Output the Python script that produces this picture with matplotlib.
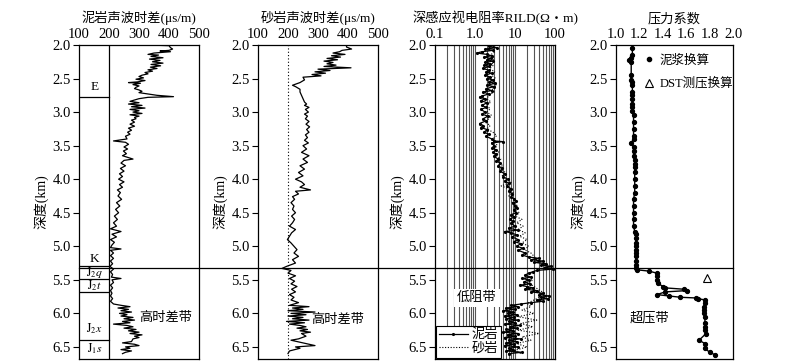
import matplotlib
matplotlib.use("Agg")
import matplotlib.pyplot as plt
from matplotlib.lines import Line2D
from matplotlib.transforms import blended_transform_factory
import numpy as np

plt.rcParams['font.family'] = ['Liberation Serif', 'Noto Sans CJK SC']
plt.rcParams['mathtext.fontset'] = 'stix'

# ---------------- data ----------------
mud_dt_depth = [2.00, 2.01, 2.04, 2.06, 2.08, 2.09, 2.10, 2.12, 2.14, 2.15, 2.17, 2.19, 2.21, 2.23, 2.25, 2.27,
                2.29, 2.31, 2.33, 2.35, 2.37, 2.39, 2.41, 2.43, 2.45, 2.47, 2.49, 2.51, 2.53, 2.55, 2.56, 2.57,
                2.59, 2.61, 2.63, 2.65, 2.67, 2.69, 2.71, 2.73, 2.75, 2.77, 2.78, 2.80, 2.82, 2.84, 2.86, 2.88,
                2.90, 2.92, 2.94, 2.96, 2.98, 3.00, 3.02, 3.04, 3.06, 3.08, 3.10, 3.12, 3.15, 3.18, 3.21, 3.24,
                3.27, 3.30, 3.33, 3.36, 3.40, 3.43, 3.45, 3.48, 3.52, 3.55, 3.58, 3.62, 3.65, 3.70, 3.72, 3.76,
                3.80, 3.84, 3.88, 3.92, 3.96, 4.00, 4.04, 4.08, 4.12, 4.16, 4.20, 4.25, 4.30, 4.35, 4.40, 4.45,
                4.50, 4.55, 4.60, 4.65, 4.70, 4.74, 4.78, 4.82, 4.86, 4.90, 4.94, 4.98, 5.02, 5.04, 5.06, 5.10,
                5.14, 5.18, 5.22, 5.26, 5.30, 5.34, 5.38, 5.42, 5.46, 5.48, 5.50, 5.54, 5.58, 5.62, 5.66, 5.70,
                5.74, 5.78, 5.82, 5.86, 5.88, 5.90, 5.92, 5.94, 5.96, 5.98, 6.00, 6.02, 6.04, 6.06, 6.08, 6.10,
                6.12, 6.14, 6.16, 6.18, 6.20, 6.22, 6.24, 6.26, 6.28, 6.30, 6.32, 6.34, 6.36, 6.38, 6.42, 6.44,
                6.46, 6.48, 6.50, 6.52, 6.54, 6.56, 6.58, 6.60]
mud_dt_value = [330, 400, 405, 412, 400, 370, 405, 350, 330, 365, 340, 380, 335, 370, 345, 380,
                340, 372, 338, 360, 330, 345, 320, 330, 310, 300, 315, 290, 320, 295, 265, 305,
                280, 300, 290, 285, 300, 310, 300, 330, 360, 415, 330, 300, 285, 270, 300, 265,
                310, 275, 320, 270, 300, 280, 310, 270, 300, 285, 290, 275, 285, 270, 285, 265,
                275, 262, 270, 255, 260, 215, 255, 265, 250, 262, 248, 258, 245, 280, 250, 240,
                255, 238, 250, 235, 245, 232, 250, 235, 245, 228, 238, 230, 242, 225, 236, 222,
                232, 218, 228, 215, 225, 205, 240, 210, 225, 205, 218, 210, 205, 240, 205, 215,
                205, 215, 205, 212, 203, 215, 205, 212, 208, 240, 210, 215, 205, 212, 205, 210,
                205, 212, 205, 215, 240, 270, 230, 265, 240, 275, 235, 260, 240, 280, 250, 285,
                245, 270, 215, 260, 280, 250, 290, 265, 300, 270, 310, 285, 300, 280, 275, 245,
                285, 300, 255, 270, 240, 275, 255, 245]

sand_dt_depth = [2.00, 2.00, 2.03, 2.06, 2.08, 2.10, 2.12, 2.14, 2.16, 2.18, 2.20, 2.22, 2.24, 2.26, 2.28, 2.30,
                 2.32, 2.34, 2.36, 2.38, 2.40, 2.42, 2.44, 2.46, 2.48, 2.52, 2.56, 2.60, 2.62, 2.66, 2.70, 2.75,
                 2.80, 2.85, 2.88, 2.90, 2.93, 2.96, 3.00, 3.03, 3.06, 3.10, 3.14, 3.18, 3.22, 3.26, 3.30, 3.34,
                 3.38, 3.42, 3.46, 3.50, 3.55, 3.60, 3.65, 3.70, 3.75, 3.80, 3.85, 3.90, 3.95, 4.00, 4.04, 4.08,
                 4.12, 4.16, 4.18, 4.22, 4.26, 4.30, 4.35, 4.40, 4.45, 4.50, 4.55, 4.60, 4.65, 4.70, 4.75, 4.80,
                 4.85, 4.90, 4.95, 5.00, 5.05, 5.10, 5.15, 5.20, 5.25, 5.30, 5.33, 5.36, 5.40, 5.44, 5.48, 5.52,
                 5.56, 5.60, 5.64, 5.68, 5.72, 5.76, 5.80, 5.84, 5.88, 5.90, 5.92, 5.94, 5.96, 5.98, 6.00, 6.02,
                 6.04, 6.06, 6.08, 6.10, 6.12, 6.14, 6.16, 6.18, 6.20, 6.22, 6.24, 6.26, 6.28, 6.30, 6.34, 6.38,
                 6.40, 6.44, 6.48, 6.50, 6.52, 6.56, 6.60]
sand_dt_value = [295, 395, 395, 412, 380, 372, 350, 390, 345, 375, 330, 365, 320, 350, 330, 360,
                 320, 410, 300, 340, 290, 325, 280, 310, 250, 255, 240, 215, 225, 240, 240, 245,
                 250, 255, 262, 255, 270, 258, 268, 255, 265, 258, 270, 260, 272, 262, 270, 258,
                 265, 255, 268, 250, 262, 245, 270, 250, 265, 240, 255, 235, 250, 225, 245, 255,
                 240, 275, 225, 235, 215, 222, 210, 220, 215, 225, 212, 222, 215, 205, 225, 212,
                 205, 198, 210, 220, 230, 220, 235, 215, 225, 195, 180, 210, 200, 225, 205, 222,
                 210, 230, 212, 225, 205, 220, 210, 235, 205, 270, 215, 250, 200, 290, 210, 260,
                 200, 250, 215, 270, 195, 255, 205, 240, 260, 230, 265, 240, 275, 245, 260, 235,
                 210, 250, 290, 225, 240, 205, 200]

mud_rild_depth = [2.02, 2.04, 2.06, 2.08, 2.10, 2.12, 2.14, 2.16, 2.18, 2.20, 2.22, 2.24, 2.26, 2.28, 2.30, 2.32,
                  2.35, 2.38, 2.40, 2.42, 2.45, 2.48, 2.50, 2.52, 2.55, 2.57, 2.60, 2.62, 2.65, 2.68, 2.70, 2.73,
                  2.76, 2.78, 2.80, 2.83, 2.86, 2.90, 2.93, 2.96, 3.00, 3.03, 3.06, 3.10, 3.13, 3.17, 3.20, 3.23,
                  3.26, 3.30, 3.33, 3.36, 3.40, 3.43, 3.44, 3.46, 3.50, 3.53, 3.56, 3.60, 3.63, 3.66, 3.70, 3.73,
                  3.76, 3.80, 3.84, 3.88, 3.92, 3.96, 4.00, 4.03, 4.06, 4.10, 4.14, 4.18, 4.22, 4.26, 4.30, 4.33,
                  4.36, 4.40, 4.43, 4.46, 4.50, 4.53, 4.56, 4.60, 4.63, 4.66, 4.70, 4.73, 4.76, 4.78, 4.80, 4.83,
                  4.86, 4.90, 4.93, 4.96, 5.00, 5.03, 5.06, 5.10, 5.13, 5.16, 5.18, 5.20, 5.22, 5.24, 5.26, 5.28,
                  5.30, 5.32, 5.34, 5.36, 5.38, 5.40, 5.43, 5.46, 5.48, 5.50, 5.53, 5.56, 5.58, 5.60, 5.62, 5.64,
                  5.66, 5.68, 5.70, 5.72, 5.74, 5.76, 5.78, 5.80, 5.82, 5.84, 5.86, 5.88, 5.90, 5.92, 5.94, 5.96,
                  5.98, 6.00, 6.02, 6.04, 6.06, 6.08, 6.10, 6.12, 6.14, 6.16, 6.18, 6.20, 6.22, 6.24, 6.26, 6.28,
                  6.30, 6.32, 6.34, 6.36, 6.38, 6.40, 6.42, 6.44, 6.46, 6.48, 6.50, 6.52, 6.54, 6.56, 6.58, 6.60]
mud_rild_value = [2.3, 3.5, 1.8, 2.8, 1.5, 1.1, 2.0, 2.6, 1.7, 2.5, 2.0, 2.8, 1.8, 2.4, 1.7, 2.2,
                  1.6, 2.3, 1.9, 2.6, 1.8, 2.4, 2.0, 2.8, 2.2, 3.2, 2.0, 3.0, 1.9, 2.6, 1.6, 2.2,
                  1.5, 1.3, 1.8, 1.4, 2.0, 1.5, 1.9, 1.4, 1.8, 1.5, 2.1, 1.6, 1.9, 1.3, 1.6, 1.4,
                  2.0, 1.7, 2.2, 1.9, 2.6, 3.0, 5.0, 2.6, 3.0, 2.7, 3.3, 2.9, 3.4, 3.0, 3.8, 3.4,
                  4.3, 3.8, 4.8, 4.3, 5.5, 5.0, 6.5, 5.5, 7.0, 6.3, 7.8, 7.0, 8.5, 8.0, 9.5, 10.5,
                  9.0, 10.0, 11.0, 9.5, 10.5, 8.0, 9.5, 7.5, 9.0, 8.0, 10.0, 7.0, 12.0, 5.5, 8.0, 11.0,
                  8.5, 12.0, 9.5, 14.0, 11.0, 16.0, 12.0, 18.0, 15.0, 22.0, 40.0, 25.0, 50.0, 30.0, 60.0, 45.0,
                  80.0, 55.0, 90.0, 35.0, 28.0, 22.0, 18.0, 25.0, 15.0, 22.0, 17.0, 24.0, 13.0, 20.0, 28.0, 18.0,
                  35.0, 25.0, 50.0, 40.0, 70.0, 45.0, 65.0, 35.0, 50.0, 25.0, 14.0, 8.0, 12.0, 6.0, 10.0, 5.0,
                  9.0, 6.5, 11.0, 5.5, 9.5, 6.0, 12.0, 7.0, 10.0, 5.5, 13.0, 7.5, 11.0, 6.0, 9.0, 5.0,
                  12.0, 6.5, 10.0, 5.5, 14.0, 7.0, 11.0, 6.0, 9.5, 5.5, 12.0, 7.0, 9.0, 6.0, 15.0, 7.0]

sand_rild_depth = [2.02, 2.06, 2.10, 2.15, 2.20, 2.25, 2.30, 2.35, 2.40, 2.45, 2.50, 2.55, 2.60, 2.65, 2.70, 2.75,
                   2.80, 2.85, 2.90, 2.95, 3.00, 3.05, 3.10, 3.15, 3.20, 3.25, 3.30, 3.35, 3.40, 3.45, 3.50, 3.55,
                   3.60, 3.65, 3.70, 3.75, 3.80, 3.85, 3.90, 3.95, 4.00, 4.05, 4.10, 4.15, 4.20, 4.25, 4.30, 4.35,
                   4.40, 4.45, 4.50, 4.55, 4.60, 4.65, 4.70, 4.75, 4.80, 4.85, 4.90, 4.95, 5.00, 5.05, 5.10, 5.15,
                   5.20, 5.25, 5.30, 5.35, 5.40, 5.45, 5.50, 5.55, 5.60, 5.65, 5.70, 5.75, 5.80, 5.85, 5.90, 5.95,
                   6.00, 6.05, 6.10, 6.15, 6.20, 6.25, 6.30, 6.35, 6.40, 6.45, 6.50, 6.55, 6.60]
sand_rild_value = [3.0, 2.2, 3.2, 2.4, 3.0, 2.5, 2.9, 2.3, 3.1, 2.6, 3.3, 2.4, 3.5, 2.6, 3.0, 2.2,
                   2.0, 2.5, 1.9, 2.4, 2.0, 2.6, 2.2, 1.8, 2.4, 2.0, 2.8, 3.5, 2.8, 3.2, 3.6, 3.0,
                   4.0, 3.4, 4.4, 3.8, 5.0, 4.2, 5.8, 4.8, 6.0, 8.0, 4.5, 7.5, 9.0, 7.0, 10.0, 8.5,
                   12.0, 9.0, 13.0, 10.0, 15.0, 11.0, 16.0, 12.0, 18.0, 13.0, 20.0, 15.0, 22.0, 17.0, 25.0, 30.0,
                   35.0, 45.0, 60.0, 40.0, 25.0, 20.0, 28.0, 22.0, 30.0, 40.0, 55.0, 45.0, 30.0, 20.0, 25.0, 15.0,
                   30.0, 12.0, 35.0, 14.0, 28.0, 12.0, 40.0, 15.0, 25.0, 11.0, 20.0, 10.0, 14.0]

pc_depth = [2.05, 2.15, 2.20, 2.22, 2.25, 2.45, 2.52, 2.55, 2.60, 2.70, 2.75, 2.80, 2.88, 2.93, 2.98, 3.05,
            3.15, 3.25, 3.35, 3.40, 3.46, 3.52, 3.58, 3.65, 3.72, 3.78, 3.82, 3.90, 4.00, 4.10, 4.20, 4.30,
            4.40, 4.50, 4.60, 4.70, 4.78, 4.82, 4.88, 4.95, 5.00, 5.05, 5.10, 5.15, 5.22, 5.28, 5.32, 5.35,
            5.37, 5.40, 5.45, 5.50, 5.55, 5.60, 5.62, 5.64, 5.66, 5.68, 5.72, 5.74, 5.76, 5.77, 5.78, 5.80,
            5.85, 5.90, 5.95, 6.00, 6.05, 6.15, 6.20, 6.25, 6.30, 6.40, 6.45, 6.52, 6.58, 6.62]
pc_value = [1.14, 1.14, 1.13, 1.11, 1.13, 1.13, 1.13, 1.14, 1.14, 1.14, 1.14, 1.14, 1.14, 1.14, 1.14, 1.15,
            1.15, 1.15, 1.15, 1.15, 1.13, 1.15, 1.15, 1.15, 1.16, 1.16, 1.16, 1.16, 1.16, 1.16, 1.16, 1.15,
            1.15, 1.15, 1.15, 1.15, 1.16, 1.17, 1.17, 1.17, 1.17, 1.17, 1.17, 1.17, 1.17, 1.17, 1.17, 1.18,
            1.28, 1.35, 1.35, 1.35, 1.36, 1.40, 1.42, 1.58, 1.61, 1.42, 1.35, 1.45, 1.55, 1.68, 1.70, 1.76,
            1.76, 1.75, 1.75, 1.75, 1.76, 1.76, 1.76, 1.76, 1.77, 1.71, 1.76, 1.76, 1.80, 1.85]

dst_depth = [5.47]
dst_value = [1.78]

strata_bounds = [2.775, 5.29, 5.49, 5.68, 6.39]
strata_labels = ['E', 'K', r'$\mathrm{J}_2\mathit{q}$', r'$\mathrm{J}_2\mathit{t}$',
                 r'$\mathrm{J}_2\mathit{x}$', r'$\mathrm{J}_1\mathit{s}$']
strata_label_depth = [2.63, 5.19, 5.39, 5.59, 6.23, 6.52]
overpressure_top = 5.33

titles = ['泥岩声波时差(μs/m)', '砂岩声波时差(μs/m)', '深感应视电阻率RILD(Ω・m)', '压力系数']

# ---------------- layout ----------------
W, H = 805, 364
fig = plt.figure(figsize=(W / 100, H / 100), dpi=100)
top_px, bot_px = 45, 359
lefts = [79, 258, 435, 616]
widths = [120, 120, 120, 117]
axes = []
for l, w in zip(lefts, widths):
    ax = fig.add_axes([l / W, 1 - bot_px / H, w / W, (bot_px - top_px) / H])
    ax.set_facecolor('none')
    axes.append(ax)

yticks = [2.0, 2.5, 3.0, 3.5, 4.0, 4.5, 5.0, 5.5, 6.0, 6.5]
for ax, t in zip(axes, titles):
    ax.set_ylim(6.68, 2.0)
    ax.set_yticks(yticks)
    ax.set_yticklabels([f'{v:.1f}' for v in yticks], fontsize=10.5)
    ax.xaxis.set_ticks_position('top')
    ax.xaxis.set_label_position('top')
    ax.tick_params(axis='x', length=0, pad=3, labelsize=10.5)
    ax.tick_params(axis='y', length=4, width=0.8, direction='out', pad=2)
    ax.set_xlabel(t, fontsize=9.5, labelpad=4)
    ax.set_ylabel('深度(km)', fontsize=10, labelpad=3)
    for s in ax.spines.values():
        s.set_linewidth(0.9)

# Panel 1
ax = axes[0]
ax.set_xlim(100, 500)
ax.set_xticks([100, 200, 300, 400, 500])
ax.axvline(200, color='black', lw=0.9)
for b in strata_bounds:
    ax.plot([100, 200], [b, b], color='black', lw=0.9)
for lab, d in zip(strata_labels, strata_label_depth):
    ax.text(152, d, lab, ha='center', va='center', fontsize=9.5 if lab in ('E', 'K') else 8.5)
ax.plot(mud_dt_value, mud_dt_depth, color='black', lw=0.9)
ax.text(390, 6.07, '高时差带', ha='center', va='center', fontsize=9.5)

# Panel 2
ax = axes[1]
ax.set_xlim(100, 500)
ax.set_xticks([100, 200, 300, 400, 500])
ax.axvline(200, color='black', lw=0.8, ls=(0, (1, 2)))
ax.plot(sand_dt_value, sand_dt_depth, color='black', lw=0.9)
ax.text(365, 6.1, '高时差带', ha='center', va='center', fontsize=9.5)

# Panel 3
ax = axes[2]
ax.set_xscale('log')
ax.set_xlim(0.1, 100)
grid_vals = []
for dec in [0.1, 1, 10]:
    for k in range(1, 10):
        grid_vals.append(dec * k)
for g in grid_vals[1:]:
    ax.axvline(g, color='#555555', lw=0.8, zorder=1)
ax.set_xticks([0.1, 1, 10, 100])
ax.set_xticklabels(['0.1', '1.0', '10', '100'])
ax.xaxis.set_minor_locator(matplotlib.ticker.NullLocator())
l1, = ax.plot(mud_rild_value, mud_rild_depth, color='black', lw=0.9, marker='.', ms=2.5, zorder=3)
l2, = ax.plot(sand_rild_value, sand_rild_depth, color='black', lw=0.8, ls=(0, (1, 1.5)), zorder=3)
ax.text(1.12, 5.77, '低阻带', ha='center', va='center', fontsize=9.5,
        bbox=dict(facecolor='white', edgecolor='none', pad=2), zorder=4)
leg = ax.legend([l1, l2], ['泥岩', '砂岩'], loc='lower left', fontsize=9.5, frameon=True,
                fancybox=False, edgecolor='black', framealpha=1, borderpad=0.2,
                handlelength=2.2, handletextpad=0.3, labelspacing=0.1, borderaxespad=0.1)
leg.get_frame().set_linewidth(0.8)
leg.set_zorder(5)

# Panel 4
ax = axes[3]
ax.set_xlim(1.0, 2.0)
ax.set_xticks([1.0, 1.2, 1.4, 1.6, 1.8, 2.0])
ax.set_xticklabels(['1.0', '1.2', '1.4', '1.6', '1.8', '2.0'])
p1, = ax.plot(pc_value, pc_depth, color='black', lw=1.0, marker='o', ms=2.8)
p2, = ax.plot(dst_value, dst_depth, ls='none', marker='^', ms=6, mfc='none', mec='black', mew=0.8)
ax.legend([Line2D([], [], ls='none', marker='o', ms=3, color='black'), p2], ['泥浆换算', 'DST测压换算'],
          loc='upper left', bbox_to_anchor=(0.2, 0.985), frameon=False, fontsize=9,
          handlelength=0.8, handletextpad=0.4, borderaxespad=0.0, labelspacing=0.85)
ax.text(1.29, 6.07, '超压带', ha='center', va='center', fontsize=9.5)

# horizontal overpressure-top line across all panels
tr = blended_transform_factory(fig.transFigure, axes[0].transData)
fig.add_artist(Line2D([79 / W, 733 / W], [overpressure_top, overpressure_top], transform=tr,
                      color='black', lw=0.9))

fig.savefig('out.png', dpi=100)
